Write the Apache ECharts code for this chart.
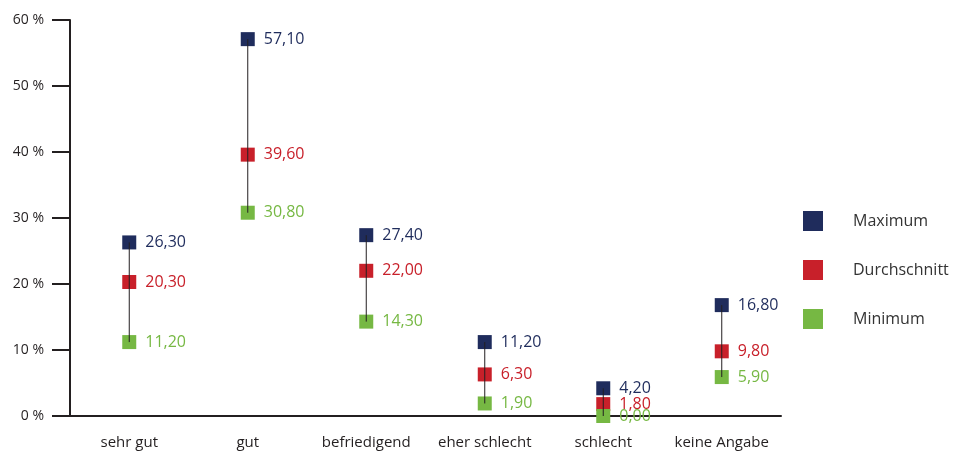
<!DOCTYPE html>
<html>
<head>
<meta charset="utf-8">
<script src="https://cdn.jsdelivr.net/npm/echarts@6/dist/echarts.min.js"></script>
<style>
  html, body { margin: 0; padding: 0; background: #fff; }
  #chart { width: 955px; height: 452px; }
</style>
</head>
<body>
<div id="chart"></div>
<script>
const categories = ["sehr gut", "gut", "befriedigend", "eher schlecht", "schlecht", "keine Angabe"]
const maxValues = [26.3, 57.1, 27.4, 11.2, 4.2, 16.8]
const avgValues = [20.3, 39.6, 22.0, 6.3, 1.8, 9.8]
const minValues = [11.2, 30.8, 14.3, 1.9, 0.0, 5.9]

const colors = {
  max: "#1f2c5c",
  avg: "#c8202a",
  min: "#76b843",
}

const fmt = (v) => v.toFixed(2).replace(".", ",")

const chart = echarts.init(document.getElementById("chart"))

// one scatter series per measure, square markers with value on the right
const pointSeries = (name, data, color) => ({
  name: name,
  type: "scatter",
  data: data,
  symbol: "rect",
  symbolSize: 14,
  itemStyle: { color: color, opacity: 1 },
  label: {
    show: true,
    position: "right",
    distance: 9,
    color: color,
    fontSize: 16,
    fontFamily: "Open Sans",
    formatter: (p) => fmt(p.value),
  },
  z: 2,
})

const option = {
  animation: false,
  grid: {
    left: 70,
    right: 174,
    top: 20,
    bottom: 36,
  },
  legend: {
    orient: "vertical",
    left: 803,
    top: 211,
    padding: 0,
    itemWidth: 20,
    itemHeight: 20,
    itemGap: 29,
    icon: "rect",
    data: ["Maximum", "Durchschnitt", "Minimum"],
    textStyle: {
      color: "#333",
      fontSize: 16,
      fontFamily: "Open Sans",
      padding: [0, 0, 0, 25],
    },
  },
  xAxis: {
    type: "category",
    data: categories,
    boundaryGap: true,
    axisLine: { lineStyle: { color: "#231f20", width: 2 } },
    axisTick: {
      alignWithLabel: true,
      inside: true,
      length: 8,
      lineStyle: { color: "#231f20", width: 2 },
    },
    axisLabel: {
      interval: 0,
      color: "#231f20",
      fontSize: 15,
      fontFamily: "Open Sans",
      margin: 19,
    },
  },
  yAxis: {
    type: "value",
    min: 0,
    max: 60,
    interval: 10,
    axisLine: { show: true, lineStyle: { color: "#231f20", width: 2 } },
    axisTick: {
      show: true,
      length: 18,
      lineStyle: { color: "#231f20", width: 2 },
    },
    splitLine: { show: false },
    axisLabel: {
      color: "#231f20",
      fontSize: 14,
      fontFamily: "Open Sans",
      margin: 26,
      formatter: (v) => v + " %",
    },
  },
  series: [
    pointSeries("Maximum", maxValues, colors.max),
    pointSeries("Durchschnitt", avgValues, colors.avg),
    pointSeries("Minimum", minValues, colors.min),
    {
      // thin vertical range line from min to max, drawn over the markers
      type: "custom",
      data: categories.map((c, i) => [i, minValues[i], maxValues[i]]),
      renderItem: (params, api) => {
        const low = api.coord([api.value(0), api.value(1)])
        const high = api.coord([api.value(0), api.value(2)])
        return {
          type: "line",
          shape: { x1: low[0], y1: low[1], x2: high[0], y2: high[1] },
          style: { stroke: "#231f20", lineWidth: 1 },
        }
      },
      z: 3,
      silent: true,
    },
  ],
}

chart.setOption(option)
</script>
</body>
</html>
